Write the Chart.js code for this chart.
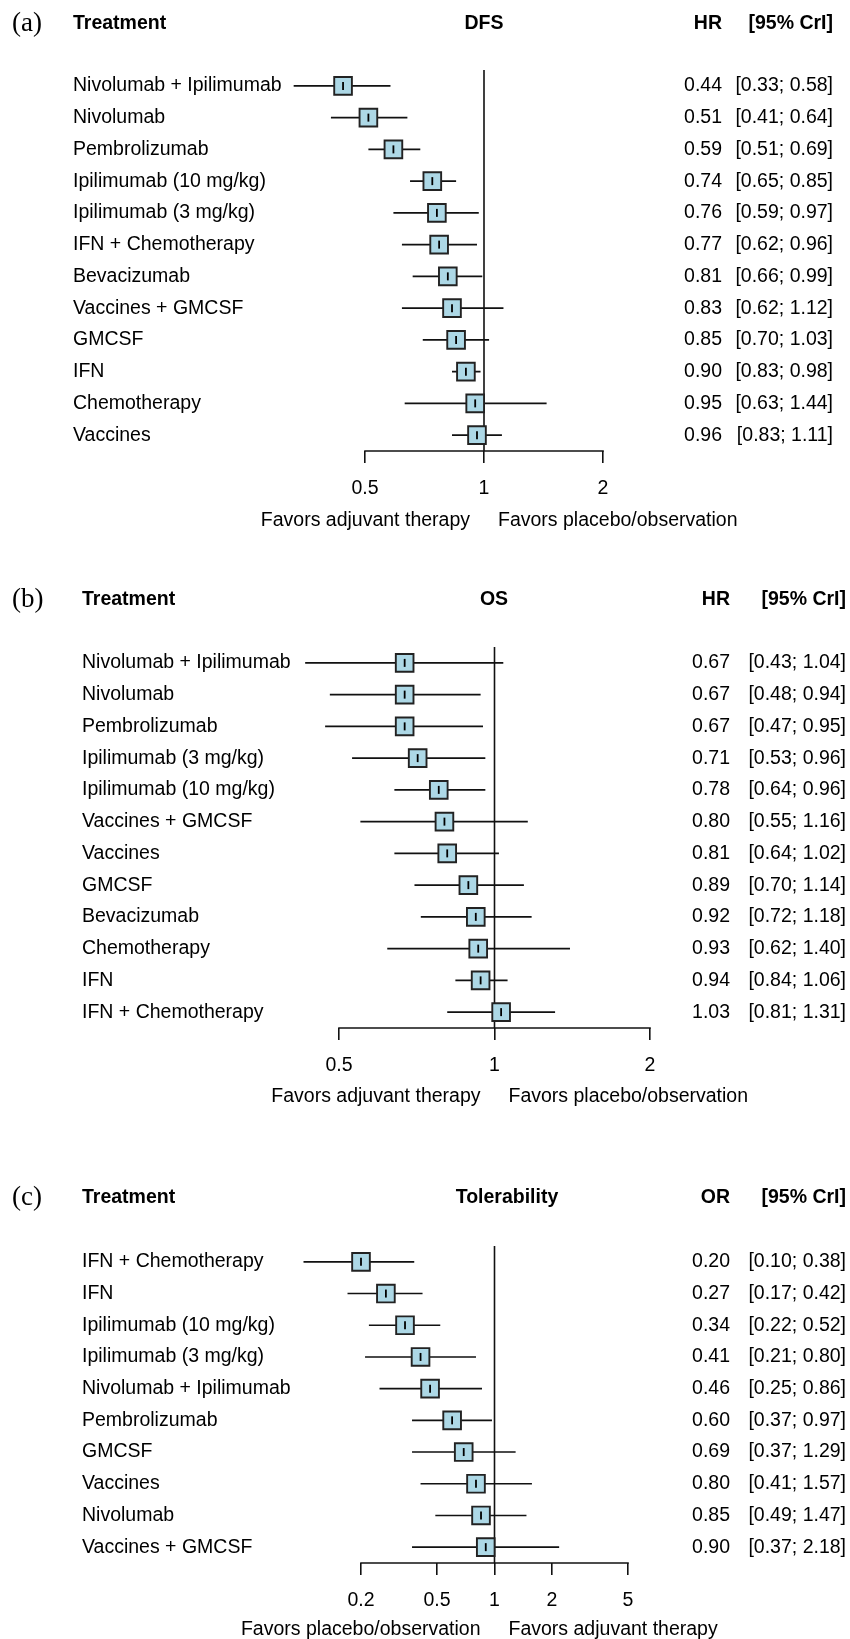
<!DOCTYPE html>
<html><head><meta charset="utf-8">
<script src="https://cdn.jsdelivr.net/npm/chart.js@4.4.1/dist/chart.umd.min.js"></script>
<style>
html,body{margin:0;padding:0;background:#fff;}
#wrap{position:relative;width:850px;height:1639px;overflow:hidden;}
canvas{position:absolute;left:0;}
</style></head><body>
<div id="wrap">
<canvas id="cA" width="850" height="576" style="top:0px;width:850px;height:576px"></canvas>
<canvas id="cB" width="850" height="598" style="top:576px;width:850px;height:598px"></canvas>
<canvas id="cC" width="850" height="465" style="top:1174px;width:850px;height:465px"></canvas>
</div>
<script>
// ---------- DATA ----------
const dfsTreatments = ["Nivolumab + Ipilimumab","Nivolumab","Pembrolizumab","Ipilimumab (10 mg/kg)","Ipilimumab (3 mg/kg)","IFN + Chemotherapy","Bevacizumab","Vaccines + GMCSF","GMCSF","IFN","Chemotherapy","Vaccines"];
const dfsHR    = [0.44,0.51,0.59,0.74,0.76,0.77,0.81,0.83,0.85,0.90,0.95,0.96];
const dfsLower = [0.33,0.41,0.51,0.65,0.59,0.62,0.66,0.62,0.70,0.83,0.63,0.83];
const dfsUpper = [0.58,0.64,0.69,0.85,0.97,0.96,0.99,1.12,1.03,0.98,1.44,1.11];

const osTreatments = ["Nivolumab + Ipilimumab","Nivolumab","Pembrolizumab","Ipilimumab (3 mg/kg)","Ipilimumab (10 mg/kg)","Vaccines + GMCSF","Vaccines","GMCSF","Bevacizumab","Chemotherapy","IFN","IFN + Chemotherapy"];
const osHR    = [0.67,0.67,0.67,0.71,0.78,0.80,0.81,0.89,0.92,0.93,0.94,1.03];
const osLower = [0.43,0.48,0.47,0.53,0.64,0.55,0.64,0.70,0.72,0.62,0.84,0.81];
const osUpper = [1.04,0.94,0.95,0.96,0.96,1.16,1.02,1.14,1.18,1.40,1.06,1.31];

const tolTreatments = ["IFN + Chemotherapy","IFN","Ipilimumab (10 mg/kg)","Ipilimumab (3 mg/kg)","Nivolumab + Ipilimumab","Pembrolizumab","GMCSF","Vaccines","Nivolumab","Vaccines + GMCSF"];
const tolOR    = [0.20,0.27,0.34,0.41,0.46,0.60,0.69,0.80,0.85,0.90];
const tolLower = [0.10,0.17,0.22,0.21,0.25,0.37,0.37,0.41,0.49,0.37];
const tolUpper = [0.38,0.42,0.52,0.80,0.86,0.97,1.29,1.57,1.47,2.18];

const ticksDFS = [0.5, 1, 2];
const ticksOS  = [0.5, 1, 2];
const ticksTol = [0.2, 0.5, 1, 2, 5];

// ---------- DRAWING ----------
const FONT = "'Liberation Sans', Arial, Helvetica, sans-serif";
const SERIF = "'Liberation Serif', 'Times New Roman', serif";
const FS = 19.5;
const XH = 62;

function fmt(v){ return v.toFixed(2); }

function makePanel(canvasId, p) {
  const n = p.names.length;
  const tMin = p.ticks[0], tMax = p.ticks[p.ticks.length - 1];
  // scale range is widened on the left so that every box centre lies inside the plot area
  const scaleMin = Math.min(tMin, Math.min(...p.est) / 1.12);
  const pxPerLn = (p.xRight - p.xLeft) / Math.log(tMax / tMin);
  const areaLeft = p.xLeft - pxPerLn * Math.log(tMin / scaleMin);

  const ciData = [];
  p.est.forEach((v,i)=>{ ciData.push({x:p.lo[i],y:i},{x:p.hi[i],y:i},{x:null,y:null}); });
  const pts = p.est.map((v,i)=>({x:v,y:i}));
  const textPlugin = {
    id: 'forestText' + canvasId,
    afterDraw(chart) {
      const ctx = chart.ctx, xs = chart.scales.x, ys = chart.scales.y;
      const x1 = xs.getPixelForValue(1);
      ctx.save();
      ctx.fillStyle = '#000';
      ctx.textBaseline = 'middle';
      ctx.font = '27px ' + SERIF; ctx.textAlign = 'left';
      ctx.fillText(p.letter, 12, p.headY);
      ctx.font = 'bold ' + FS + 'px ' + FONT;
      ctx.fillText('Treatment', p.labelX, p.headY);
      ctx.textAlign = 'center'; ctx.fillText(p.title, p.titleX, p.headY);
      ctx.textAlign = 'right'; ctx.fillText(p.measure, p.numRight, p.headY);
      ctx.fillText('[95% CrI]', p.ciRight, p.headY);
      ctx.font = FS + 'px ' + FONT;
      for (let i = 0; i < n; i++) {
        const y = ys.getPixelForValue(i);
        ctx.textAlign = 'right';
        ctx.fillText(fmt(p.est[i]), p.numRight, y);
        ctx.fillText('[' + fmt(p.lo[i]) + '; ' + fmt(p.hi[i]) + ']', p.ciRight, y);
      }
      ctx.textAlign = 'right'; ctx.fillText(p.favLeft, x1 - 14, p.favY);
      ctx.textAlign = 'left'; ctx.fillText(p.favRight, x1 + 14, p.favY);
      ctx.restore();
    }
  };
  return new Chart(document.getElementById(canvasId), {
    type: 'scatter',
    data: { datasets: [
      { data: pts, pointStyle: 'line', pointRotation: 90, pointRadius: 4, pointBorderWidth: 1.8,
        borderColor: '#000', pointBorderColor: '#000', order: 0, clip: false },
      { data: pts, pointStyle: 'rect', pointRadius: 12.5, backgroundColor: '#add8e6',
        pointBackgroundColor: '#add8e6', pointBorderColor: '#222', pointBorderWidth: 1.9, order: 1, clip: false },
      { data: ciData, showLine: true, borderColor: '#111', borderWidth: 1.6, pointRadius: 0,
        spanGaps: false, order: 2, clip: false },
      { data: [{x:1,y:-0.5},{x:1,y:n-0.5}], showLine: true, borderColor: '#111', borderWidth: 1.6,
        pointRadius: 0, order: 3, clip: false },
      { data: [{x:tMin,y:n-0.5},{x:tMax,y:n-0.5}], showLine: true, borderColor: '#111', borderWidth: 1.6,
        pointRadius: 0, order: 4, clip: false, borderCapStyle: 'square' }
    ]},
    options: {
      responsive: false, animation: false, events: [],
      layout: { padding: { left: p.labelX, top: p.top, right: 850 - p.xRight, bottom: p.H - p.bottom - XH } },
      plugins: { legend: { display: false }, tooltip: { enabled: false } },
      scales: {
        x: { type: 'logarithmic', min: scaleMin, max: tMax, position: 'bottom',
          afterBuildTicks: s => { s.ticks = p.ticks.map(v => ({value: v})); },
          afterFit: s => { s.height = XH; },
          grid: { display: true, drawOnChartArea: false, drawTicks: true, tickLength: 12, color: '#111', lineWidth: 1.6 },
          border: { display: false },
          ticks: { autoSkip: false, maxRotation: 0, color: '#000', font: { family: FONT, size: FS },
            padding: 14, callback: v => String(v) } },
        y: { type: 'linear', reverse: true, min: -0.5, max: n - 0.5, position: 'left',
          afterBuildTicks: s => { s.ticks = p.names.map((_, i) => ({value: i})); },
          afterFit: s => { s.width = areaLeft - p.labelX; },
          grid: { display: false }, border: { display: false },
          ticks: { autoSkip: false, crossAlign: 'far', padding: 0, color: '#000',
            font: { family: FONT, size: FS }, callback: v => p.names[v] } }
      }
    },
    plugins: [textPlugin]
  });
}

makePanel('cA', { names: dfsTreatments, est: dfsHR, lo: dfsLower, hi: dfsUpper, ticks: ticksDFS,
  letter: '(a)', title: 'DFS', measure: 'HR',
  favLeft: 'Favors adjuvant therapy', favRight: 'Favors placebo/observation',
  H: 576, headY: 24, labelX: 73, top: 70, bottom: 451, xLeft: 365, xRight: 603,
  titleX: 484, numRight: 722, ciRight: 833, favY: 521 });

makePanel('cB', { names: osTreatments, est: osHR, lo: osLower, hi: osUpper, ticks: ticksOS,
  letter: '(b)', title: 'OS', measure: 'HR',
  favLeft: 'Favors adjuvant therapy', favRight: 'Favors placebo/observation',
  H: 598, headY: 24, labelX: 82, top: 71, bottom: 452, xLeft: 339, xRight: 650,
  titleX: 494, numRight: 730, ciRight: 846, favY: 521 });

makePanel('cC', { names: tolTreatments, est: tolOR, lo: tolLower, hi: tolUpper, ticks: ticksTol,
  letter: '(c)', title: 'Tolerability', measure: 'OR',
  favLeft: 'Favors placebo/observation', favRight: 'Favors adjuvant therapy',
  H: 465, headY: 24, labelX: 82, top: 72, bottom: 389, xLeft: 361, xRight: 628,
  titleX: 507, numRight: 730, ciRight: 846, favY: 456 });
</script>
</body></html>
